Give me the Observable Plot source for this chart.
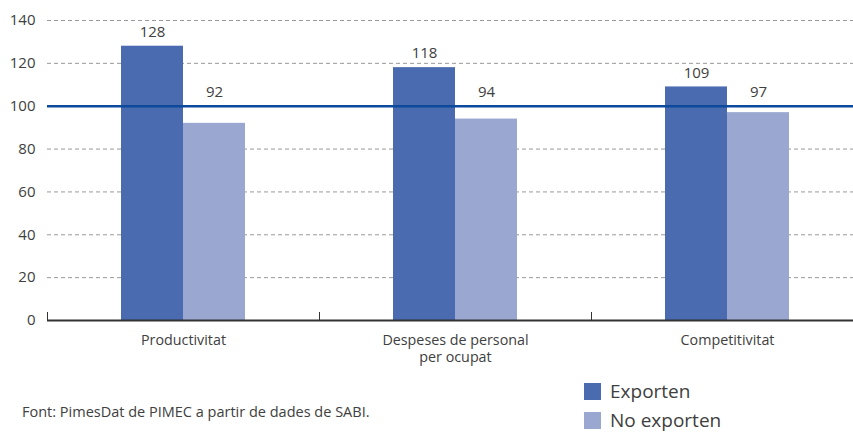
<!DOCTYPE html>
<html>
<head>
<meta charset="utf-8">
<script src="https://cdn.jsdelivr.net/npm/d3@7"></script>
<script src="https://cdn.jsdelivr.net/npm/@observablehq/plot@0.6"></script>
<style>
  html, body { margin: 0; padding: 0; background: #fff; overflow: hidden; }
  body { width: 853px; height: 434px; font-family: "Open Sans", sans-serif; color: #404040; }
  #chart svg { display: block; overflow: hidden; }
  #below { position: relative; height: 64px; }
  #caption { position: absolute; left: 22px; top: 32px; font-size: 14.5px; color: #404040; white-space: nowrap; }
  .leg { position: absolute; left: 584px; display: flex; align-items: center; font-size: 19px; line-height: 24px; color: #404040; white-space: nowrap; }
  .leg span.sw { width: 17px; height: 17px; margin-right: 9px; display: inline-block; }
</style>
</head>
<body>
<div id="chart"></div>
<div id="below">
  <div id="caption"></div>
</div>
<script>
const categories = ["Productivitat", "Despeses de personal\nper ocupat", "Competitivitat"];
const seriesNames = ["Exporten", "No exporten"];
const exporten = [128, 118, 109];
const noExporten = [92, 94, 97];
const yTicks = [0, 20, 40, 60, 80, 100, 120, 140];
const colors = ["#4a6baf", "#9aa8d1"];
const caption = "Font: PimesDat de PIMEC a partir de dades de SABI.";

const rows = [];
categories.forEach((c, i) => {
  rows.push({cat: c, series: seriesNames[0], value: exporten[i]});
  rows.push({cat: c, series: seriesNames[1], value: noExporten[i]});
});

const plot = Plot.plot({
  width: 853,
  height: 370,
  marginLeft: 47,
  marginRight: -10,
  marginTop: 20,
  marginBottom: 50,
  style: {fontFamily: "'Open Sans', sans-serif", color: "#404040", background: "#fff"},
  fx: {domain: categories, padding: 0, label: null},
  x: {domain: seriesNames, paddingInner: 0, paddingOuter: 1.159, axis: null},
  y: {domain: [0, 140], axis: null},
  color: {domain: seriesNames, range: colors},
  marks: [
    Plot.ruleY(yTicks.filter(d => d > 0), {stroke: "#999", strokeWidth: 1, strokeDasharray: "4,3"}),
    Plot.barY(rows, {fx: "cat", x: "series", y: "value", fill: "series"}),
    Plot.ruleY([100], {stroke: "#0d4a9c", strokeWidth: 2.5}),
    Plot.ruleY([0], {stroke: "#333", strokeWidth: 2}),
    Plot.frame({anchor: "left", insetTop: 292, stroke: "#333"}),
    Plot.frame({anchor: "right", insetTop: 292, stroke: "#333"}),
    Plot.text(rows, {fx: "cat", x: "series", y: d => Math.max(d.value, 100), text: d => String(d.value), dy: -14, fontSize: 15, fill: "#404040"}),
    Plot.axisY({ticks: yTicks, tickSize: 0, tickPadding: 12, fontSize: 15, label: null}),
    Plot.axisFx({anchor: "bottom", tickSize: 0, tickPadding: 12, fontSize: 14.3, lineHeight: 1.2, label: null})
  ]
});
document.getElementById("chart").appendChild(plot);

const below = document.getElementById("below");
document.getElementById("caption").textContent = caption;
seriesNames.forEach((s, i) => {
  const d = document.createElement("div");
  d.className = "leg";
  d.style.top = (i === 0 ? 9 : 38) + "px";
  d.innerHTML = `<span class="sw" style="background:${colors[i]}"></span><span>${s}</span>`;
  below.appendChild(d);
});
</script>
</body>
</html>
